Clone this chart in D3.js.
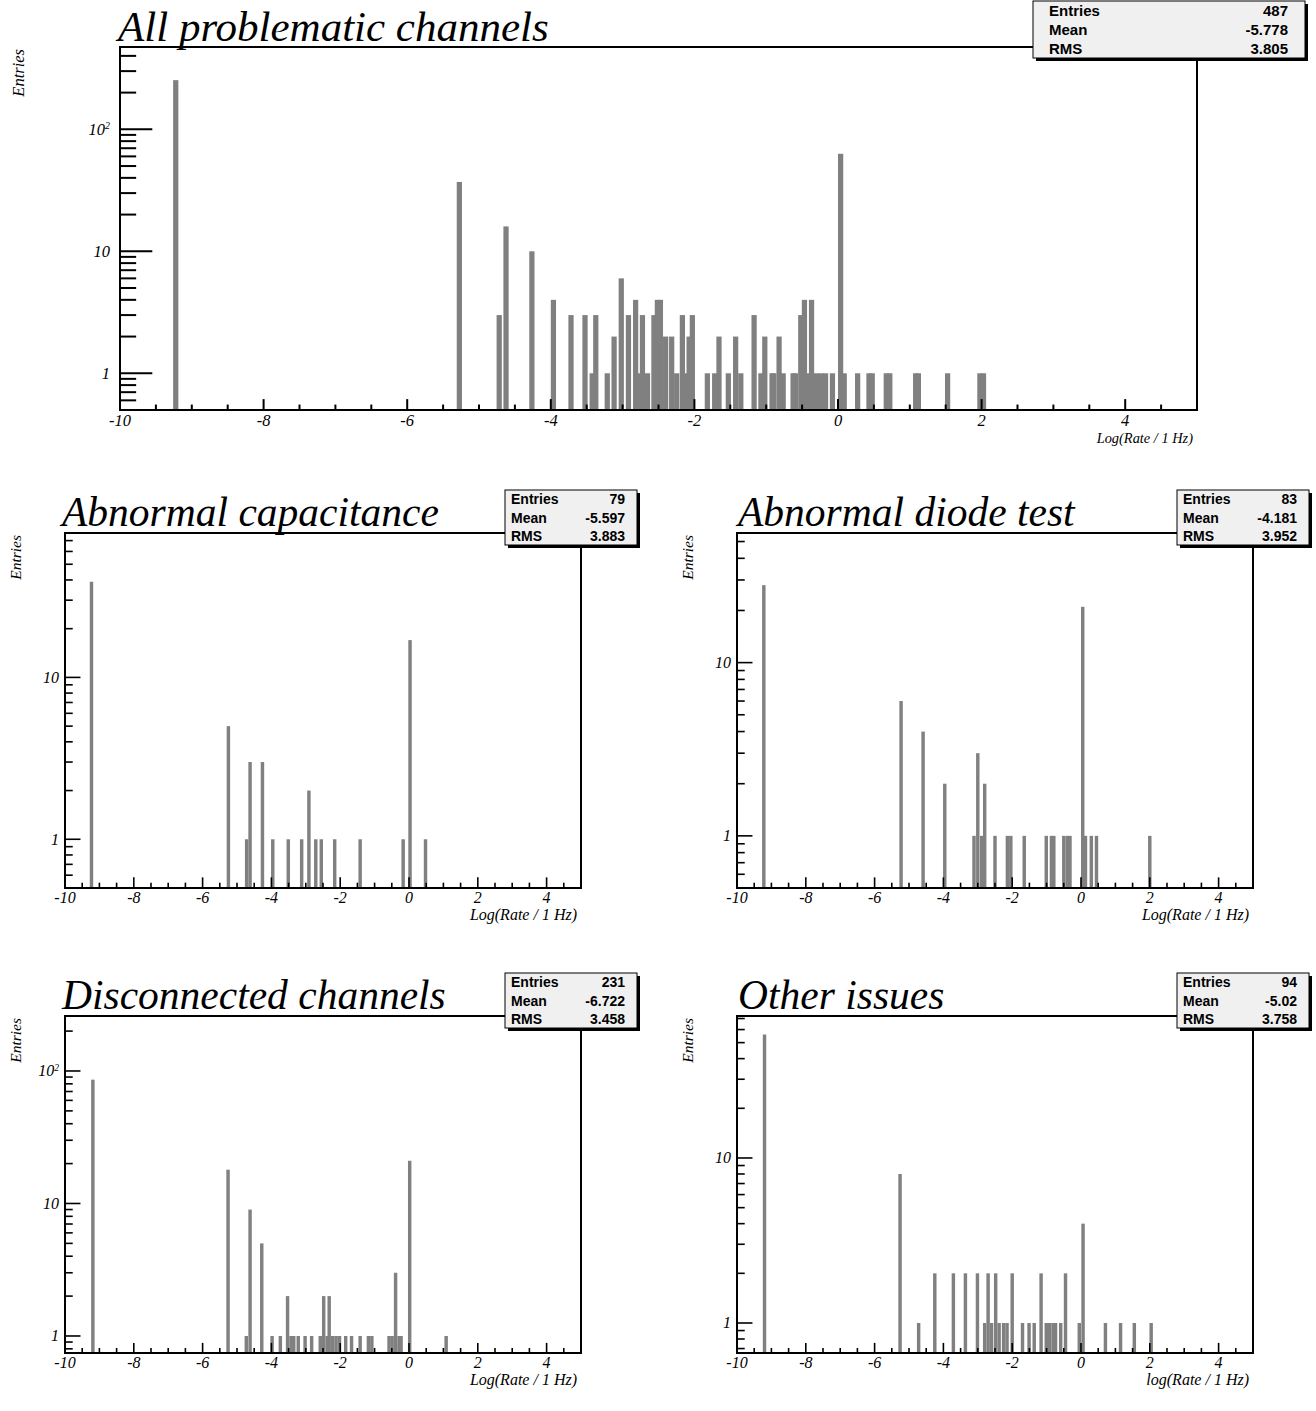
<!DOCTYPE html>
<html>
<head>
<meta charset="utf-8">
<script src="https://cdn.jsdelivr.net/npm/d3@7"></script>
<style>
  body { margin: 0; background: #fff; }
  svg { display: block; }
</style>
</head>
<body>
<svg width="1316" height="1411"></svg>
<script>
// bars: [low edge of bar in Log(Rate / 1 Hz), entries]
const allBars = [[-9.26,253],[-5.31,37],[-4.755,3],[-4.66,16],[-4.30,10],[-4.00,4],[-3.755,3],[-3.56,3],[-3.46,1],[-3.41,3],[-3.25,1],[-3.155,2],[-3.055,6],[-2.955,3],[-2.855,4],[-2.80,1],[-2.76,3],[-2.69,1],[-2.60,3],[-2.552,4],[-2.51,4],[-2.437,2],[-2.353,2],[-2.283,1],[-2.204,3],[-2.14,1],[-2.11,2],[-2.065,3],[-1.856,1],[-1.754,1],[-1.694,2],[-1.564,1],[-1.462,2],[-1.39,1],[-1.205,3],[-1.11,1],[-1.056,2],[-0.955,1],[-0.93,1],[-0.857,2],[-0.80,1],[-0.662,1],[-0.63,1],[-0.555,3],[-0.504,4],[-0.44,1],[-0.405,4],[-0.335,1],[-0.27,1],[-0.21,1],[-0.114,1],[0.0,63],[0.05,1],[0.237,1],[0.395,1],[0.44,1],[0.636,1],[0.685,1],[1.045,1],[1.083,1],[1.49,1],[1.94,1],[1.99,1]];
const capBars = [[-9.28,39],[-5.30,5],[-4.77,1],[-4.67,3],[-4.31,3],[-4.01,1],[-3.56,1],[-3.17,1],[-2.96,2],[-2.76,1],[-2.60,1],[-2.21,1],[-1.47,1],[-0.22,1],[-0.02,17],[0.43,1]];
const diodeBars = [[-9.27,28],[-5.28,6],[-4.64,4],[-4.01,2],[-3.16,1],[-3.05,3],[-2.94,1],[-2.85,2],[-2.55,1],[-2.19,1],[-2.09,1],[-1.70,1],[-1.06,1],[-0.91,1],[-0.84,1],[-0.55,1],[-0.45,1],[-0.37,1],[0.0,21],[0.08,1],[0.25,1],[0.40,1],[1.95,1]];
const discBars = [[-9.24,86],[-5.31,18],[-4.78,1],[-4.67,9],[-4.33,5],[-4.03,1],[-3.79,1],[-3.58,2],[-3.48,1],[-3.40,1],[-3.27,1],[-3.07,1],[-2.88,1],[-2.63,1],[-2.53,2],[-2.43,1],[-2.37,2],[-2.27,1],[-2.17,1],[-2.07,1],[-1.89,1],[-1.72,1],[-1.47,1],[-1.23,1],[-1.13,1],[-0.63,1],[-0.54,1],[-0.44,3],[-0.34,1],[-0.28,1],[-0.03,21],[1.03,1]];
const otherBars = [[-9.25,56],[-5.31,8],[-4.77,1],[-4.30,2],[-3.76,2],[-3.41,2],[-3.06,2],[-2.85,1],[-2.75,2],[-2.65,1],[-2.53,2],[-2.43,1],[-2.30,1],[-2.20,1],[-2.05,2],[-1.75,1],[-1.56,1],[-1.41,1],[-1.21,2],[-1.06,1],[-0.96,1],[-0.86,1],[-0.79,1],[-0.64,1],[-0.50,2],[-0.10,1],[0.01,4],[0.66,1],[1.10,1],[1.50,1],[1.99,1]];

const titles = ["All problematic channels", "Abnormal capacitance", "Abnormal diode test", "Disconnected channels", "Other issues"];
const statEntries = ["487", "79", "83", "231", "94"];
const statMean = ["-5.778", "-5.597", "-4.181", "-6.722", "-5.02"];
const statRms = ["3.805", "3.883", "3.952", "3.458", "3.758"];
const xTitles = ["Log(Rate / 1 Hz)", "Log(Rate / 1 Hz)", "Log(Rate / 1 Hz)", "Log(Rate / 1 Hz)", "log(Rate / 1 Hz)"];
const yTitle = "Entries";
const xTickLabels = [-10, -8, -6, -4, -2, 0, 2, 4];
const xDomain = [-10, 5];

const svg = d3.select("svg");
const serif = "'Liberation Serif', 'Times New Roman', serif";
const sans = "'Liberation Sans', Arial, Helvetica, sans-serif";

// pad geometry (pixels) and log y range of each pad
const pads = [
    { x0: 120, x1: 1197, y0: 47, y1: 410, ymin: 0.5, ymax: 473, barW: 0.073, tick: 2,
      titleX: 118, titleY: 41, titleSize: 43, labelSize: 16.5, labelGap: 10, xlabDy: 16, xtitleDy: 33,
      xtitleSize: 14.4, ytitleX: 19, ytitleSize: 16.5,
      box: { x: 1033, y: 1, w: 272, h: 57, tx: 16, vx: 17, fs: 15 } },
    { x0: 65, x1: 581, y0: 533, y1: 888, ymin: 0.5, ymax: 78, barW: 0.1, tick: 1.6,
      titleX: 62, titleY: 526, titleSize: 41.5, labelSize: 16, labelGap: 6, xlabDy: 15, xtitleDy: 32,
      xtitleSize: 16, ytitleX: 16, ytitleSize: 15.5,
      box: { x: 505, y: 490, w: 132, h: 55, tx: 6, vx: 12, fs: 14 } },
    { x0: 737, x1: 1253, y0: 533, y1: 888, ymin: 0.5, ymax: 56, barW: 0.1, tick: 1.6,
      titleX: 738, titleY: 526, titleSize: 41.5, labelSize: 16, labelGap: 6, xlabDy: 15, xtitleDy: 32,
      xtitleSize: 16, ytitleX: 688, ytitleSize: 15.5,
      box: { x: 1177, y: 490, w: 132, h: 55, tx: 6, vx: 12, fs: 14 } },
    { x0: 65, x1: 581, y0: 1016, y1: 1353, ymin: 0.744, ymax: 260, barW: 0.1, tick: 1.6,
      titleX: 62, titleY: 1009, titleSize: 41.5, labelSize: 16, labelGap: 6, xlabDy: 15, xtitleDy: 32,
      xtitleSize: 16, ytitleX: 16, ytitleSize: 15.5,
      box: { x: 505, y: 973, w: 132, h: 55, tx: 6, vx: 12, fs: 14 } },
    { x0: 737, x1: 1253, y0: 1016, y1: 1353, ymin: 0.658, ymax: 72.5, barW: 0.1, tick: 1.6,
      titleX: 738, titleY: 1009, titleSize: 41.5, labelSize: 16, labelGap: 6, xlabDy: 15, xtitleDy: 32,
      xtitleSize: 16, ytitleX: 688, ytitleSize: 15.5,
      box: { x: 1177, y: 973, w: 132, h: 55, tx: 6, vx: 12, fs: 14 } }
];
const panelBars = [allBars, capBars, diodeBars, discBars, otherBars];

function drawPad(p, bars, i) {
    const x = d3.scaleLinear().domain(xDomain).range([p.x0, p.x1]);
    const y = d3.scaleLog().domain([p.ymin, p.ymax]).range([p.y1, p.y0]);
    const g = svg.append("g");

    // histogram bars
    g.selectAll("rect.bar")
        .data(bars)
        .enter()
        .append("rect")
        .attr("class", "bar")
        .attr("x", d => x(d[0]))
        .attr("width", d => x(d[0] + p.barW) - x(d[0]))
        .attr("y", d => y(d[1]))
        .attr("height", d => p.y1 - y(d[1]))
        .attr("fill", "#808080");

    // frame
    g.append("rect")
        .attr("x", p.x0).attr("y", p.y0)
        .attr("width", p.x1 - p.x0).attr("height", p.y1 - p.y0)
        .attr("fill", "none").attr("stroke", "#000").attr("stroke-width", 2);

    // y axis: log ticks pointing into the frame
    const ylen = 0.03 * (p.x1 - p.x0);
    const yticks = [];
    for (let e = -1; e <= 3; e++) {
        for (let m = 1; m <= 9; m++) {
            const v = m * Math.pow(10, e);
            if (v >= p.ymin && v <= p.ymax) yticks.push({ v: v, major: m === 1 });
        }
    }
    g.selectAll("line.yt")
        .data(yticks)
        .enter()
        .append("line")
        .attr("x1", p.x0)
        .attr("x2", d => p.x0 + (d.major ? ylen : ylen / 2))
        .attr("y1", d => y(d.v)).attr("y2", d => y(d.v))
        .attr("stroke", "#000").attr("stroke-width", p.tick);

    const ylabs = g.selectAll("text.yl")
        .data(yticks.filter(d => d.major && d.v >= 1))
        .enter()
        .append("text")
        .attr("x", p.x0 - p.labelGap)
        .attr("y", d => y(d.v) + p.labelSize * 0.33)
        .attr("text-anchor", "end")
        .attr("font-family", serif)
        .attr("font-style", "italic")
        .attr("font-size", p.labelSize);
    ylabs.each(function (d) {
        const t = d3.select(this);
        if (d.v >= 100) {
            t.text("10");
            t.append("tspan")
                .attr("font-size", p.labelSize * 0.6)
                .attr("dy", -p.labelSize * 0.35)
                .text(Math.round(Math.log10(d.v)));
        } else {
            t.text(d.v);
        }
    });

    // x axis ticks pointing up
    const xlen = 0.03 * (p.y1 - p.y0);
    const xticks = d3.range(xDomain[0], xDomain[1] + 0.001, 0.5);
    g.selectAll("line.xt")
        .data(xticks)
        .enter()
        .append("line")
        .attr("x1", d => x(d)).attr("x2", d => x(d))
        .attr("y1", p.y1)
        .attr("y2", d => p.y1 - (xTickLabels.includes(d) ? xlen : xlen / 2))
        .attr("stroke", "#000").attr("stroke-width", p.tick);

    g.selectAll("text.xl")
        .data(xTickLabels)
        .enter()
        .append("text")
        .attr("x", d => x(d))
        .attr("y", p.y1 + p.xlabDy)
        .attr("text-anchor", "middle")
        .attr("font-family", serif)
        .attr("font-style", "italic")
        .attr("font-size", p.labelSize)
        .text(d => d);

    // axis titles
    g.append("text")
        .attr("x", p.x1 - 4)
        .attr("y", p.y1 + p.xtitleDy)
        .attr("text-anchor", "end")
        .attr("font-family", serif)
        .attr("font-style", "italic")
        .attr("font-size", p.xtitleSize)
        .text(xTitles[i]);

    g.append("text")
        .attr("transform", "translate(" + (p.ytitleX + 5) + "," + (p.y0 + 2) + ") rotate(-90)")
        .attr("text-anchor", "end")
        .attr("font-family", serif)
        .attr("font-style", "italic")
        .attr("font-size", p.ytitleSize)
        .text(yTitle);

    // title sitting on the frame
    g.append("text")
        .attr("x", p.titleX)
        .attr("y", p.titleY)
        .attr("font-family", serif)
        .attr("font-style", "italic")
        .attr("font-size", p.titleSize)
        .text(titles[i]);

    // stats box with shadow
    const b = p.box;
    g.append("rect")
        .attr("x", b.x + 3).attr("y", b.y + 3)
        .attr("width", b.w).attr("height", b.h)
        .attr("fill", "#000");
    g.append("rect")
        .attr("x", b.x).attr("y", b.y)
        .attr("width", b.w).attr("height", b.h)
        .attr("fill", "#f0f0f0").attr("stroke", "#000").attr("stroke-width", 1);
    const rows = [["Entries", statEntries[i]], ["Mean", statMean[i]], ["RMS", statRms[i]]];
    const rowH = b.h / 3;
    rows.forEach(function (r, k) {
        const yy = b.y + rowH * (k + 0.5) + b.fs * 0.36;
        g.append("text")
            .attr("x", b.x + b.tx).attr("y", yy)
            .attr("font-family", sans).attr("font-weight", "bold")
            .attr("font-size", b.fs)
            .text(r[0]);
        g.append("text")
            .attr("x", b.x + b.w - b.vx).attr("y", yy)
            .attr("text-anchor", "end")
            .attr("font-family", sans).attr("font-weight", "bold")
            .attr("font-size", b.fs)
            .text(r[1]);
    });
}

pads.forEach(function (p, i) {
    drawPad(p, panelBars[i], i);
});
</script>
</body>
</html>
